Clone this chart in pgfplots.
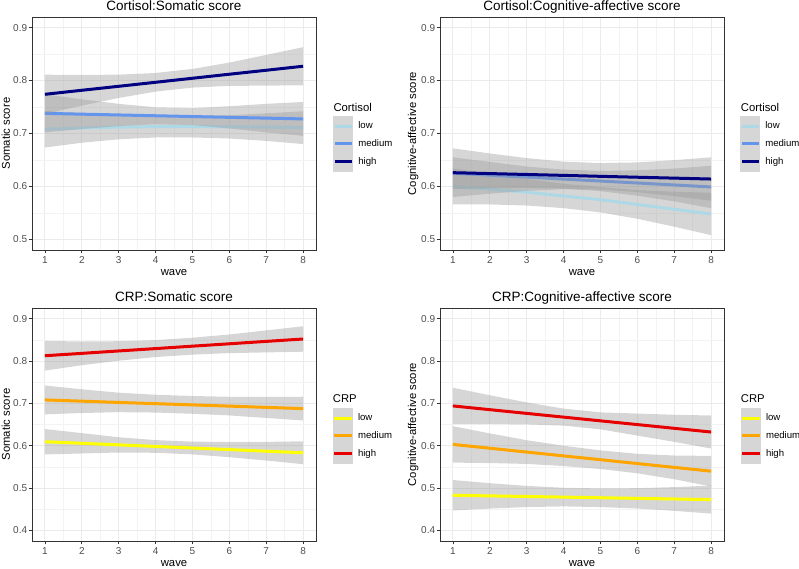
\documentclass[border=0pt]{standalone}
\usepackage{pgfplots}
\pgfplotsset{compat=1.18}
\usepackage{fontspec}
\setmainfont{Liberation Sans}

\definecolor{clow}{HTML}{ADD8E6}
\definecolor{cmed}{HTML}{6495ED}
\definecolor{chigh}{HTML}{000080}
\definecolor{rlow}{HTML}{FFFF00}
\definecolor{rmed}{HTML}{FFA500}
\definecolor{rhigh}{HTML}{E60000}
\definecolor{bandfill}{RGB}{153,153,153}
\definecolor{keyfill}{RGB}{214,214,214}
\definecolor{gmaj}{HTML}{EBEBEB}
\definecolor{gmin}{HTML}{F3F3F3}
\definecolor{c20}{HTML}{333333}
\definecolor{c30}{HTML}{4D4D4D}

\newcommand\titlesize{\fontsize{13.5bp}{15bp}\selectfont}
\newcommand\labsize{\fontsize{11.3bp}{13bp}\selectfont}
\newcommand\ticksize{\fontsize{10bp}{11bp}\selectfont}
\newcommand\legsize{\fontsize{9.6bp}{10.5bp}\selectfont}

\pgfplotsset{
  panel/.style={
    scale only axis, width=284bp, height=233bp,
    xmin=0.65, xmax=8.35,
    xtick={1,2,3,4,5,6,7,8},
    xticklabels={1,2,3,4,5,6,7,8},
    minor xtick={1.5,2.5,3.5,4.5,5.5,6.5,7.5},
    grid=both,
    major grid style={color=gmaj, line width=0.9bp},
    minor grid style={color=gmin, line width=0.5bp},
    minor tick length=0pt,
    major tick length=3.4bp,
    tick align=outside,
    xtick pos=left, ytick pos=left,
    tick style={color=c20, line width=0.8bp},
    axis line style={color=c20, line width=0.8bp},
    tick label style={font=\ticksize, text=c30},
    yticklabel style={anchor=east, inner sep=0pt, xshift=-1.3bp},
    xticklabel style={anchor=north, inner sep=0pt, yshift=-3.3bp},
    clip=false,
    xlabel={wave},
    xlabel style={at={(axis description cs:0.5,-0.108)}, anchor=base, inner sep=0pt, font=\labsize},
    every axis title shift=0pt,
    title style={at={(axis description cs:0.5,1.02876)}, anchor=base, inner sep=0pt, yshift=0pt, font=\titlesize},
    legend cell align=left,
    legend style={draw=none, fill=none, anchor=north west, inner sep=0pt, outer sep=0pt,
      row sep=-2.6bp, column sep=5bp, nodes={inner sep=0pt, font=\legsize, anchor=west}},
    legend image code/.code={
      \fill[keyfill] (0bp,-8.65bp) rectangle (17.3bp,8.65bp);
      \draw[#1] (0bp,0bp) -- (17.3bp,0bp);
    },
    band/.style={fill=bandfill, fill opacity=0.4, draw=none, forget plot},
    ln/.style={line width=3bp},
  },
  toprow/.style={ymin=0.48, ymax=0.92, ytick={0.5,0.6,0.7,0.8,0.9},
    yticklabels={0.5,0.6,0.7,0.8,0.9}, minor ytick={0.55,0.65,0.75,0.85}},
  botrow/.style={ymin=0.375, ymax=0.925, ytick={0.4,0.5,0.6,0.7,0.8,0.9},
    yticklabels={0.4,0.5,0.6,0.7,0.8,0.9}, minor ytick={0.45,0.55,0.65,0.75,0.85}},
}

\begin{document}
\begin{tikzpicture}[x=1bp,y=1bp]
\path[use as bounding box] (0,0) rectangle (799,569);

% ---------------- Panel 1 ----------------
\begin{axis}[panel, toprow, at={(32bp,319bp)}, anchor=south west,
  title={Cortisol:Somatic score}, ylabel={Somatic score},
  ylabel style={at={(axis description cs:-0.0775,0.5)}, anchor=base, inner sep=0pt, font=\labsize},
  legend style={at={(axis description cs:1.0599,0.5751)}}]
\addplot[band] coordinates {(1,0.7425)(2,0.7385)(3,0.735)(4,0.7335)(5,0.7335)(6,0.7345)(7,0.738)(8,0.742)
  (8,0.680)(7,0.686)(6,0.6905)(5,0.6925)(4,0.6925)(3,0.689)(2,0.6825)(1,0.6735)} -- cycle;
\addplot[ln, clow] coordinates {(1,0.708)(2,0.7105)(3,0.712)(4,0.713)(5,0.713)(6,0.7125)(7,0.712)(8,0.711)};
\addlegendentry{low}
\addplot[band] coordinates {(1,0.774)(2,0.7645)(3,0.756)(4,0.7495)(5,0.748)(6,0.7515)(7,0.756)(8,0.7595)
  (8,0.6955)(7,0.702)(6,0.7095)(5,0.716)(4,0.7175)(3,0.714)(2,0.7085)(1,0.702)} -- cycle;
\addplot[ln, cmed] coordinates {(1,0.738)(2,0.7365)(3,0.735)(4,0.7335)(5,0.732)(6,0.7305)(7,0.729)(8,0.7275)};
\addlegendentry{medium}
\addplot[band] coordinates {(1,0.811)(2,0.8106)(3,0.8111)(4,0.8143)(5,0.8219)(6,0.8339)(7,0.8484)(8,0.863)
  (8,0.791)(7,0.7904)(6,0.7899)(5,0.7867)(4,0.7791)(3,0.7671)(2,0.7526)(1,0.737)} -- cycle;
\addplot[ln, chigh] coordinates {(1,0.774)(2,0.7816)(3,0.7891)(4,0.7967)(5,0.8043)(6,0.8119)(7,0.8194)(8,0.827)};
\addlegendentry{high}
\node[anchor=base west, inner sep=0pt, font=\labsize] at (axis description cs:1.0610,0.5936) {Cortisol};
\end{axis}

% ---------------- Panel 2 ----------------
\begin{axis}[panel, toprow, at={(440bp,319bp)}, anchor=south west,
  title={Cortisol:Cognitive-affective score}, ylabel={Cognitive-affective score},
  ylabel style={at={(axis description cs:-0.0845,0.5)}, anchor=base, inner sep=0pt, font=\labsize},
  legend style={at={(axis description cs:1.0563,0.5751)}}]
\addplot[band] coordinates {(1,0.634)(2,0.624)(3,0.614)(4,0.605)(5,0.599)(6,0.593)(7,0.590)(8,0.588)
  (8,0.508)(7,0.524)(6,0.539)(5,0.551)(4,0.559)(3,0.564)(2,0.566)(1,0.566)} -- cycle;
\addplot[ln, clow] coordinates {(1,0.600)(2,0.595)(3,0.589)(4,0.582)(5,0.575)(6,0.566)(7,0.557)(8,0.548)};
\addlegendentry{low}
\addplot[band] coordinates {(1,0.655)(2,0.6463)(3,0.6376)(4,0.6319)(5,0.6292)(6,0.6305)(7,0.6338)(8,0.639)
  (8,0.559)(7,0.5718)(6,0.5825)(5,0.5912)(4,0.5959)(3,0.5976)(2,0.5963)(1,0.595)} -- cycle;
\addplot[ln, cmed] coordinates {(1,0.625)(2,0.6213)(3,0.6176)(4,0.6139)(5,0.6102)(6,0.6065)(7,0.6028)(8,0.599)};
\addlegendentry{medium}
\addplot[band] coordinates {(1,0.672)(2,0.6623)(3,0.6536)(4,0.6469)(5,0.6441)(6,0.6454)(7,0.6497)(8,0.655)
  (8,0.573)(7,0.5817)(6,0.5894)(5,0.5941)(4,0.5949)(3,0.5916)(2,0.5863)(1,0.580)} -- cycle;
\addplot[ln, chigh] coordinates {(1,0.626)(2,0.6243)(3,0.6226)(4,0.6209)(5,0.6191)(6,0.6174)(7,0.6157)(8,0.614)};
\addlegendentry{high}
\node[anchor=base west, inner sep=0pt, font=\labsize] at (axis description cs:1.0588,0.5936) {Cortisol};
\end{axis}

% ---------------- Panel 3 ----------------
\begin{axis}[panel, botrow, at={(32bp,28bp)}, anchor=south west,
  title={CRP:Somatic score}, ylabel={Somatic score},
  ylabel style={at={(axis description cs:-0.0775,0.5)}, anchor=base, inner sep=0pt, font=\labsize},
  legend style={at={(axis description cs:1.0588,0.5708)}}]
\addplot[band] coordinates {(1,0.6393)(2,0.6296)(3,0.6199)(4,0.6132)(5,0.6095)(6,0.6088)(7,0.609)(8,0.6103)
  (8,0.5563)(7,0.565)(6,0.5728)(5,0.5795)(4,0.5832)(3,0.5839)(2,0.5816)(1,0.5793)} -- cycle;
\addplot[ln, rlow] coordinates {(1,0.6093)(2,0.6056)(3,0.6019)(4,0.5982)(5,0.5945)(6,0.5908)(7,0.5870)(8,0.5833)};
\addlegendentry{low}
\addplot[band] coordinates {(1,0.742)(2,0.7331)(3,0.7251)(4,0.7202)(5,0.7173)(6,0.7154)(7,0.7154)(8,0.7155)
  (8,0.6595)(7,0.6654)(6,0.6714)(5,0.6753)(4,0.6782)(3,0.6791)(2,0.6771)(1,0.674)} -- cycle;
\addplot[ln, rmed] coordinates {(1,0.708)(2,0.7051)(3,0.7021)(4,0.6992)(5,0.6963)(6,0.6934)(7,0.6904)(8,0.6875)};
\addlegendentry{medium}
\addplot[band] coordinates {(1,0.8473)(2,0.8459)(3,0.8466)(4,0.8492)(5,0.8549)(6,0.8625)(7,0.8722)(8,0.8818)
  (8,0.8218)(7,0.8202)(6,0.8185)(5,0.8149)(4,0.8092)(3,0.8006)(2,0.7899)(1,0.7773)} -- cycle;
\addplot[ln, rhigh] coordinates {(1,0.8123)(2,0.8179)(3,0.8236)(4,0.8292)(5,0.8349)(6,0.8405)(7,0.8462)(8,0.8518)};
\addlegendentry{high}
\node[anchor=base west, inner sep=0pt, font=\labsize] at (axis description cs:1.0588,0.5953) {CRP};
\end{axis}

% ---------------- Panel 4 ----------------
\begin{axis}[panel, botrow, at={(440bp,28bp)}, anchor=south west,
  title={CRP:Cognitive-affective score}, ylabel={Cognitive-affective score},
  ylabel style={at={(axis description cs:-0.0845,0.5)}, anchor=base, inner sep=0pt, font=\labsize},
  legend style={at={(axis description cs:1.0588,0.5710)}}]
\addplot[band] coordinates {(1,0.519)(2,0.5115)(3,0.5051)(4,0.5006)(5,0.4991)(6,0.4996)(7,0.5022)(8,0.5057)
  (8,0.4397)(7,0.4462)(6,0.4516)(5,0.4551)(4,0.4566)(3,0.4551)(2,0.4515)(1,0.447)} -- cycle;
\addplot[ln, rlow] coordinates {(1,0.483)(2,0.4815)(3,0.4801)(4,0.4786)(5,0.4771)(6,0.4756)(7,0.4742)(8,0.4727)};
\addlegendentry{low}
\addplot[band] coordinates {(1,0.646)(2,0.629)(3,0.6129)(4,0.5999)(5,0.5889)(6,0.5808)(7,0.5768)(8,0.5758)
  (8,0.5038)(7,0.5208)(6,0.5348)(5,0.5449)(4,0.5519)(3,0.5569)(2,0.559)(1,0.560)} -- cycle;
\addplot[ln, rmed] coordinates {(1,0.603)(2,0.594)(3,0.5849)(4,0.5759)(5,0.5669)(6,0.5578)(7,0.5488)(8,0.5398)};
\addlegendentry{medium}
\addplot[band] coordinates {(1,0.7368)(2,0.719)(3,0.7022)(4,0.6874)(5,0.6786)(6,0.6758)(7,0.673)(8,0.6712)
  (8,0.5932)(7,0.609)(6,0.6238)(5,0.6386)(4,0.6474)(3,0.6502)(2,0.651)(1,0.6508)} -- cycle;
\addplot[ln, rhigh] coordinates {(1,0.6938)(2,0.685)(3,0.6762)(4,0.6674)(5,0.6586)(6,0.6498)(7,0.641)(8,0.6322)};
\addlegendentry{high}
\node[anchor=base west, inner sep=0pt, font=\labsize] at (axis description cs:1.0588,0.5953) {CRP};
\end{axis}
\end{tikzpicture}
\end{document}
